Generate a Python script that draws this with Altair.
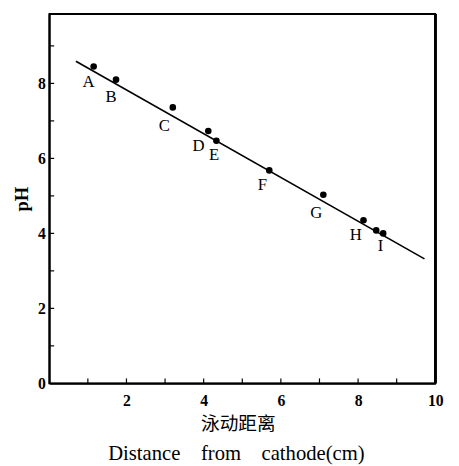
import altair as alt
import pandas as pd

# measured points
pt_x = [1.15, 1.73, 3.2, 4.12, 4.33, 5.7, 7.1, 8.14, 8.47, 8.65]
pt_y = [8.45, 8.1, 7.36, 6.73, 6.47, 5.68, 5.03, 4.35, 4.08, 4.0]

# point labels (anchor in data units)
lab_text = ["A", "B", "C", "D", "E", "F", "G", "H", "I"]
lab_x = [1.02, 1.6, 2.98, 3.87, 4.27, 5.52, 6.92, 7.94, 8.58]
lab_y = [8.04, 7.64, 6.86, 6.34, 6.10, 5.29, 4.53, 3.95, 3.66]

# fitted line end points
fit_x = [0.69, 9.72]
fit_y = [8.59, 3.32]

x_ticks = [1, 2, 3, 4, 5, 6, 7, 8, 9]
y_ticks = [1, 2, 3, 4, 5, 6, 7, 8, 9]

SERIF = "Liberation Serif, 'Noto Sans CJK SC'"

pts = pd.DataFrame({"x": pt_x, "y": pt_y})
labs = pd.DataFrame({"x": lab_x, "y": lab_y, "t": lab_text})
fit = pd.DataFrame({"x": fit_x, "y": fit_y})
xt = pd.DataFrame({"v": x_ticks})
yt = pd.DataFrame({"v": y_ticks})

xscale = alt.Scale(domain=[0, 10], nice=False)
yscale = alt.Scale(domain=[0, 9.85], nice=False)

xaxis = alt.Axis(
    values=[0, 2, 4, 6, 8, 10],
    labelExpr="datum.value == 0 ? '' : datum.label",
    labelFlush=False,
    ticks=False, grid=False, domainColor="black", domainWidth=2,
    labelFont=SERIF, labelFontSize=16, labelFontWeight="bold", labelColor="black",
    labelPadding=10,
    title="泳动距离", titleFont=SERIF, titleFontSize=19, titleFontWeight="normal",
    titleColor="black", titleX=192, titleY=32,
)
yaxis = alt.Axis(
    values=[0, 2, 4, 6, 8],
    labelFlush=False,
    ticks=False, grid=False, domainColor="black", domainWidth=2,
    labelFont=SERIF, labelFontSize=16, labelFontWeight="bold", labelColor="black",
    labelPadding=4,
    title="pH", titleFont=SERIF, titleFontSize=19, titleFontWeight="bold",
    titleColor="black", titlePadding=6,
)

line = alt.Chart(fit).mark_line(color="black", strokeWidth=1.6).encode(
    x=alt.X("x:Q", scale=xscale, axis=xaxis),
    y=alt.Y("y:Q", scale=yscale, axis=yaxis),
)
dots = alt.Chart(pts).mark_circle(color="black", size=45, opacity=1).encode(
    x=alt.X("x:Q", scale=xscale), y=alt.Y("y:Q", scale=yscale)
)
texts = alt.Chart(labs).mark_text(font=SERIF, fontSize=17, color="black").encode(
    x=alt.X("x:Q", scale=xscale), y=alt.Y("y:Q", scale=yscale), text="t:N"
)
xtick = alt.Chart(xt).mark_rule(color="black", strokeWidth=1.2).encode(
    x=alt.X("v:Q", scale=xscale), y=alt.value(376), y2=alt.value(371)
)
ytick = alt.Chart(yt).mark_rule(color="black", strokeWidth=1.2).encode(
    y=alt.Y("v:Q", scale=yscale), x=alt.value(0), x2=alt.value(5)
)
# frame top and right edges
top_edge = alt.Chart(xt).mark_rule(color="black", strokeWidth=2).encode(
    x=alt.value(0), x2=alt.value(393), y=alt.value(0)
)
right_edge = alt.Chart(xt).mark_rule(color="black", strokeWidth=2).encode(
    x=alt.value(393), y=alt.value(0), y2=alt.value(376)
)

sp = "\u00a0" * 4
chart = alt.layer(line, dots, texts, xtick, ytick, top_edge, right_edge).properties(
    width=393, height=376,
    autosize=alt.AutoSizeParams(type="none"),
    padding={"left": 42, "top": 2, "right": 16, "bottom": 80},
    view=alt.ViewBackground(stroke="black", strokeWidth=1.8, fill="white"),
    title=alt.TitleParams(
        "Distance" + sp + "from" + sp + "cathode(cm)",
        orient="bottom", anchor="middle", font=SERIF, fontSize=21,
        fontWeight="normal", color="black", dx=-6, offset=10,
    ),
).configure(background="white")

chart.save("out.html", embed_options={"renderer": "svg", "actions": False})
